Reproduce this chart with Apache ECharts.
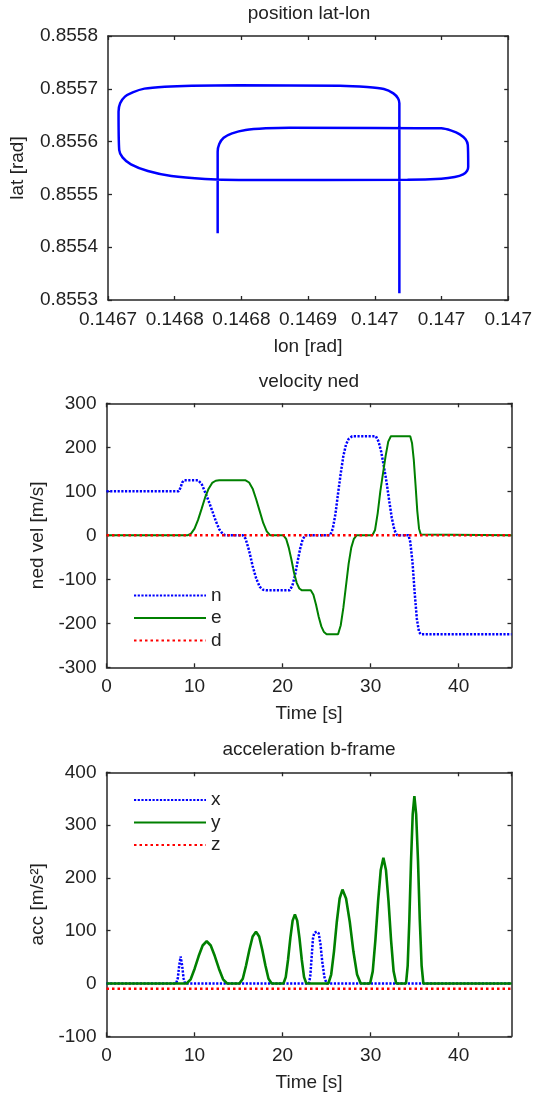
<!DOCTYPE html>
<html><head><meta charset="utf-8">
<script src="https://cdn.jsdelivr.net/npm/echarts@6/dist/echarts.min.js"></script>
<style>html,body{margin:0;padding:0;background:#fff}#c{width:535px;height:1097px}</style>
</head><body><div id="c"></div>
<script>
// ---------- data ----------
const lonAxisMin = 0.1467, lonAxisStep = 0.00005;
const latAxisMin = 0.8553, latAxisStep = 0.0001;
const lonTickLabels = ['0.1467','0.1468','0.1468','0.1469','0.147','0.147','0.147'];
const latTickLabels = ['0.8553','0.8554','0.8555','0.8556','0.8557','0.8558'];

const posLon = [0.1467822,0.1467822,0.1467834,0.1467867,0.1467930,0.1468032,0.1468183,0.1468360,
  0.1469498,0.1469574,0.1469637,0.1469680,0.1469697,0.1469700,0.1469692,0.1469662,0.1469599,0.1469498,
  0.1469245,0.1467981,0.1467728,0.1467475,0.1467299,0.1467172,0.1467109,0.1467084,0.1467079,0.1467091,
  0.1467127,0.1467185,0.1467273,0.1467425,0.1467627,0.1467981,0.1468739,0.1468942,0.1469068,0.1469139,
  0.1469174,0.1469184,0.1469184];
const posLat = [0.8554263,0.8555809,0.8555955,0.8556074,0.8556157,0.8556220,0.8556251,0.8556264,
  0.8556251,0.8556207,0.8556138,0.8556043,0.8555936,0.8555525,0.8555449,0.8555380,0.8555330,0.8555298,
  0.8555279,0.8555273,0.8555292,0.8555348,0.8555443,0.8555569,0.8555702,0.8555841,0.8556567,0.8556725,
  0.8556851,0.8556933,0.8557003,0.8557040,0.8557059,0.8557066,0.8557059,0.8557034,0.8556996,0.8556914,
  0.8556819,0.8556725,0.8553126];

const velTimeN = [0,8.2,8.4,8.6,8.8,10.4,10.8,11.2,11.6,12.0,12.4,12.8,13.2,13.5,15.5,15.8,16.2,16.6,17.0,17.4,17.8,18.1,
  20.8,21.1,21.4,21.7,22.0,22.3,22.6,25.4,25.7,26.0,26.3,26.6,26.9,27.2,27.5,27.9,30.6,30.9,31.2,31.5,31.8,32.1,32.4,32.7,33.0,
  34.3,34.5,34.75,35.0,35.25,35.5,35.7,46];
const velN = [100,100,108,120,125,125,117,98,78,56,33,14,3,0,0,-8,-35,-70,-98,-117,-124,-125,
  -125,-115,-92,-60,-30,-8,0,0,15,48,95,140,180,206,219,225,225,213,190,157,122,80,40,12,0,
  0,-15,-60,-130,-190,-220,-225,-225];
const velTimeE = [0,9.2,9.6,10.0,10.4,10.8,11.2,11.6,12.0,12.4,12.8,15.8,16.2,16.6,17.0,17.4,17.8,18.2,18.6,
  20.1,20.4,20.7,21.0,21.3,21.6,21.9,22.2,23.2,23.5,23.8,24.1,24.4,24.7,25.0,26.3,26.6,26.9,27.2,27.5,27.8,28.1,28.4,
  30.2,30.5,30.8,31.1,31.4,31.7,32.0,32.3,34.5,34.7,34.9,35.1,35.3,35.5,35.7,35.9,46];
const velE = [0,0,4,15,35,60,86,106,119,124,125,125,120,106,82,55,28,9,0,
  0,-8,-28,-55,-85,-108,-121,-125,-125,-135,-158,-185,-207,-220,-225,-225,-205,-165,-115,-65,-28,-8,0,
  0,12,50,100,140,180,213,225,225,210,172,115,55,15,2,0,0];
const velTimeD = [0,46];
const velD = [0,0];

const accTimeX = [0,7.9,8.1,8.25,8.42,8.6,8.75,8.92,
  23.0,23.15,23.3,23.45,23.6,23.87,24.1,24.3,24.5,24.75,25.0,46];
const accX = [0,0,10,33,51,33,10,0,
  0,15,50,85,96,98,95,75,42,12,0,0];
const accTimeY = [0,
  9.1,9.56,10.01,10.47,10.92,11.38,11.84,12.3,12.77,13.24,13.7,
  15.1,15.48,15.85,16.23,16.6,16.98,17.34,17.69,18.05,18.4,18.76,
  20.1,20.36,20.62,20.88,21.14,21.4,21.66,21.92,22.18,22.44,22.7,
  25.2,25.52,25.84,26.16,26.48,26.8,27.21,27.63,28.04,28.46,28.87,
  29.94,30.24,30.54,30.85,31.15,31.45,31.74,32.03,32.32,32.61,32.9,
  34.02,34.21,34.4,34.59,34.78,34.97,35.17,35.38,35.58,35.79,35.99,
  46];
const accY = [0,
  0,8,28,52,72,80,72,52,28,8,0,
  0,9,34,64,89,98,89,64,34,9,0,
  0,12,45,86,119,131,119,86,45,12,0,
  0,17,61,117,161,178,161,117,61,17,0,
  0,23,82,156,215,238,215,156,82,23,0,
  0,34,122,233,321,355,321,233,122,34,0,
  0];
const accTimeZ = [0,46];
const accZ = [-9.81,-9.81];

const timeTickStep = 10;

// ---------- build ----------
const pair = (xs, ys) => xs.map((x, i) => [x, ys[i]]);
const posData = posLon.map((lon, i) => [(lon - lonAxisMin) / lonAxisStep, (posLat[i] - latAxisMin) / latAxisStep]);

const FONT = '"Liberation Sans", Arial, Helvetica, sans-serif';
const TXT = '#222';
const AX = '#262626';
const FS = 19;

const gridL = 106.5, gridW = 405, gridH = 264;
const grids = [
  {left: gridL, top: 36, width: gridW, height: gridH},
  {left: gridL, top: 403.3, width: gridW, height: gridH},
  {left: gridL, top: 772.3, width: gridW, height: gridH}
];

function axisCommon(mirror) {
  return {
    axisLine: {show: true, onZero: false, lineStyle: {color: AX, width: 1.5}},
    axisTick: {show: true, inside: true, length: 4, lineStyle: {color: AX, width: 1.3}},
    splitLine: {show: false},
    axisLabel: mirror ? {show: false} : {show: true, color: TXT, fontSize: FS, fontFamily: FONT, margin: 10},
    nameTextStyle: {color: TXT, fontSize: FS, fontFamily: FONT}
  };
}

const xAxes = [], yAxes = [];
function addAxes(g, xs, ys) {
  xAxes.push(Object.assign(axisCommon(false), {gridIndex: g, type: 'value', position: 'bottom'}, xs));
  xAxes.push(Object.assign(axisCommon(true), {gridIndex: g, type: 'value', position: 'top',
    min: xs.min, max: xs.max, interval: xs.interval}));
  yAxes.push(Object.assign(axisCommon(false), {gridIndex: g, type: 'value', position: 'left'}, ys));
  yAxes.push(Object.assign(axisCommon(true), {gridIndex: g, type: 'value', position: 'right',
    min: ys.min, max: ys.max, interval: ys.interval}));
  const last = xAxes[xAxes.length - 2];
  last.axisLabel = Object.assign({}, last.axisLabel, xs.labelExtra || {});
  const lastY = yAxes[yAxes.length - 2];
  lastY.axisLabel = Object.assign({}, lastY.axisLabel, ys.labelExtra || {});
}

addAxes(0,
  {min: 0, max: 6, interval: 1, name: 'lon [rad]', nameLocation: 'middle', nameGap: 37,
   labelExtra: {formatter: v => lonTickLabels[Math.round(v)]}},
  {min: 0, max: 5, interval: 1, name: 'lat [rad]', nameLocation: 'middle', nameGap: 81,
   labelExtra: {formatter: v => latTickLabels[Math.round(v)]}});
addAxes(1,
  {min: 0, max: 46, interval: timeTickStep, name: 'Time [s]', nameLocation: 'middle', nameGap: 37,
   labelExtra: {showMaxLabel: false}},
  {min: -300, max: 300, interval: 100, name: 'ned vel [m/s]', nameLocation: 'middle', nameGap: 58});
addAxes(2,
  {min: 0, max: 46, interval: timeTickStep, name: 'Time [s]', nameLocation: 'middle', nameGap: 37,
   labelExtra: {showMaxLabel: false}},
  {min: -100, max: 400, interval: 100, name: 'acc [m/s²]', nameLocation: 'middle', nameGap: 58});

const BLUE = '#0000ff', GREEN = '#008000', RED = '#ff0000';
const dotBlue = [2.2, 1.5], dotRed = [2.5, 3];
function line(name, g, data, color, width, type, z) {
  return {name, type: 'line', xAxisIndex: g * 2, yAxisIndex: g * 2, data, showSymbol: false, symbol: 'none',
    lineStyle: {color, width, type}, itemStyle: {color}, z: z || 2, clip: true};
}

const series = [
  Object.assign(line('pos', 0, posData, BLUE, 2.5, 'solid'), {smooth: 0.25}),
  line('n', 1, pair(velTimeN, velN), BLUE, 2.5, dotBlue, 2),
  line('e', 1, pair(velTimeE, velE), GREEN, 2, 'solid', 3),
  line('d', 1, pair(velTimeD, velD), RED, 2.5, dotRed, 4),
  line('x', 2, pair(accTimeX, accX), BLUE, 2.5, dotBlue, 2),
  line('y', 2, pair(accTimeY, accY), GREEN, 2.6, 'solid', 3),
  line('z', 2, pair(accTimeZ, accZ), RED, 2.5, dotRed, 4)
];

function legend(top, names) {
  return {data: names, orient: 'vertical', left: 133, top, itemWidth: 72, itemHeight: 14, itemGap: 3.5,
    padding: 0, itemStyle: {opacity: 0, color: 'transparent', borderWidth: 0},
    textStyle: {color: TXT, fontSize: FS, fontFamily: FONT, lineHeight: 19}, selectedMode: false};
}

function title(text, top) {
  return {text, left: 309, top, textAlign: 'center', padding: 0,
    textStyle: {color: TXT, fontSize: FS, fontWeight: 'normal', fontFamily: FONT, lineHeight: 19}};
}

const chart = echarts.init(document.getElementById('c'), null, {renderer: 'canvas'});
chart.setOption({
  animation: false,
  backgroundColor: '#fff',
  title: [title('position lat-lon', 4.5), title('velocity ned', 372.2), title('acceleration b-frame', 740.5)],
  legend: [legend(586, ['n', 'e', 'd']), legend(790.5, ['x', 'y', 'z'])],
  grid: grids,
  xAxis: xAxes,
  yAxis: yAxes,
  series
});
</script></body></html>
